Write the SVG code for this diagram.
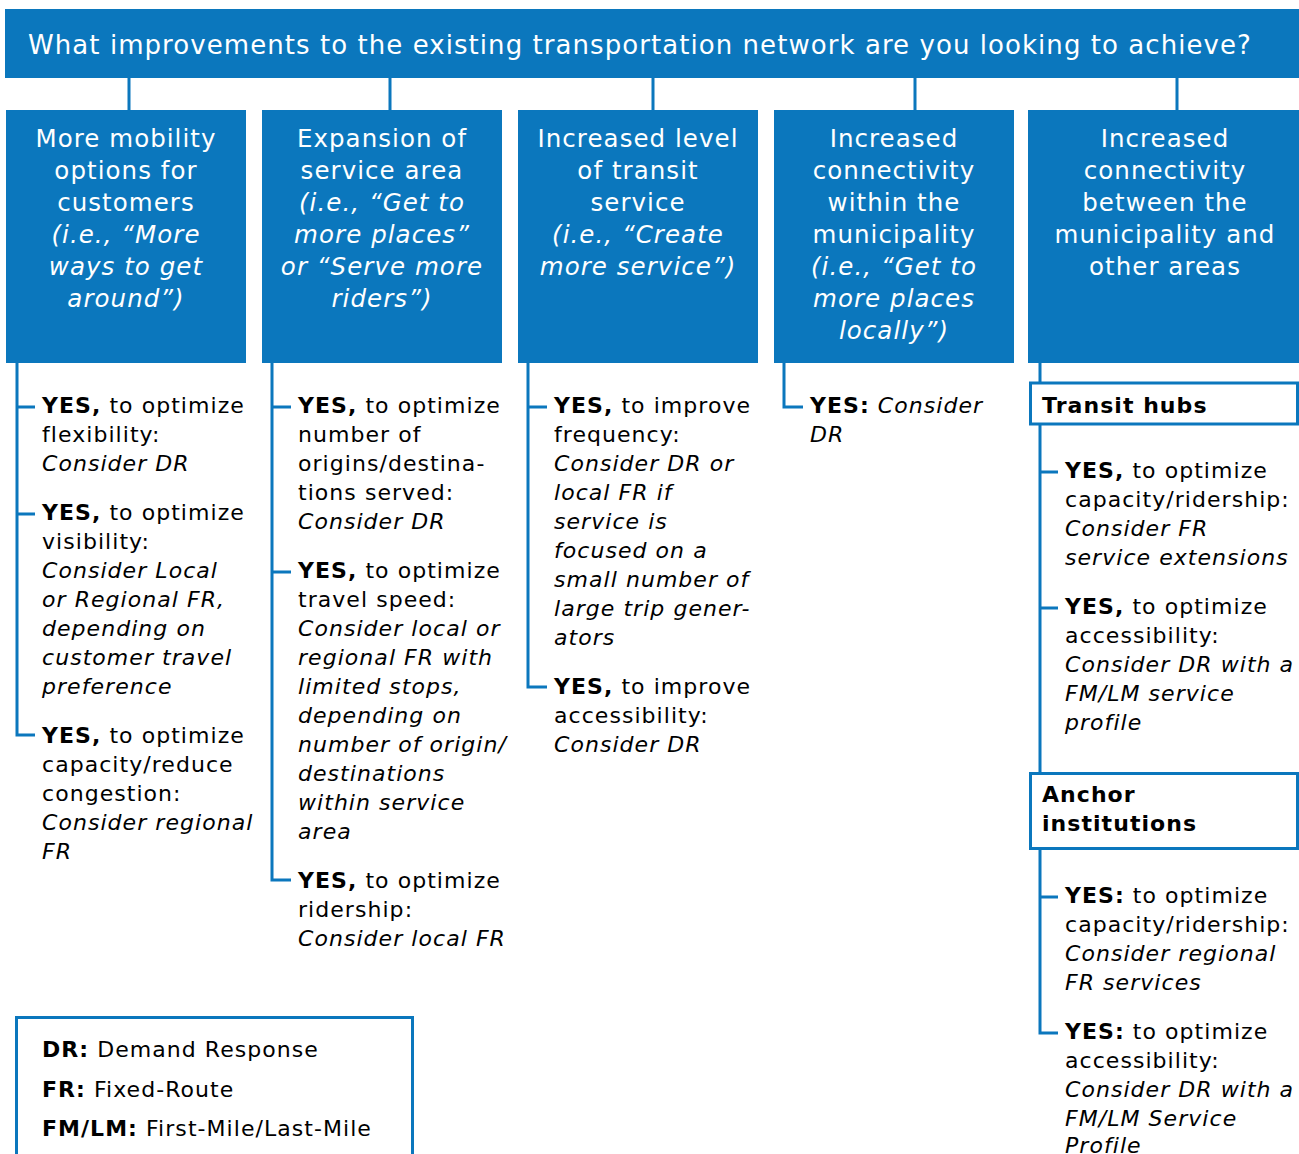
<svg xmlns="http://www.w3.org/2000/svg" width="1299" height="1154" viewBox="0 0 1299 1154">
<style>
.blue{fill:#0b77bd}
.hdr{font-family:"DejaVu Sans",Verdana,sans-serif;font-size:26px;fill:#fff;letter-spacing:1.06px}
.ct{font-family:"DejaVu Sans",Verdana,sans-serif;font-size:24.5px;fill:#fff;text-anchor:middle;letter-spacing:1.05px}
.bt{font-family:"DejaVu Sans",Verdana,sans-serif;font-size:22px;fill:#000;letter-spacing:1.05px}
.b{font-weight:bold}
.i{font-style:italic}
.ln{stroke:#0b77bd;stroke-width:3;fill:none}
.box{stroke:#0b77bd;stroke-width:3;fill:#fff}
</style>
<rect width="1299" height="1154" fill="#fff"/>
<g id="header">
<rect class="blue" x="5" y="9" width="1294" height="69"/>
<text class="hdr" x="28" y="54">What improvements to the existing transportation network are you looking to achieve?</text>
</g>
<g id="connectors">
<path class="ln" d="M129 78V110M390 78V110M653 78V110M915 78V110M1177 78V110"/>
<path class="ln" d="M17 363V735H35M17 407H35M17 514H35"/>
<path class="ln" d="M272 363V880H291M272 407H291M272 572H291"/>
<path class="ln" d="M528 363V687H547M528 407H547"/>
<path class="ln" d="M784 363V407H803"/>
<path class="ln" d="M1040 363V382M1040 424V772M1040 472H1058M1040 608H1058M1040 849V1033H1058M1040 897H1058"/>
</g>
<g id="col1">
<rect class="blue" x="6" y="110" width="240" height="253"/>
<text class="ct" x="126"><tspan x="126" y="147">More mobility</tspan><tspan x="126" y="179">options for</tspan><tspan x="126" y="211">customers</tspan><tspan class="i" x="126" y="243">(i.e., “More</tspan><tspan class="i" x="126" y="275">ways to get</tspan><tspan class="i" x="126" y="307">around”)</tspan></text>
</g>
<g id="col2">
<rect class="blue" x="262" y="110" width="240" height="253"/>
<text class="ct" x="382"><tspan x="382" y="147">Expansion of</tspan><tspan x="382" y="179">service area</tspan><tspan class="i" x="382" y="211">(i.e., “Get to</tspan><tspan class="i" x="382" y="243">more places”</tspan><tspan class="i" x="382" y="275">or “Serve more</tspan><tspan class="i" x="382" y="307">riders”)</tspan></text>
</g>
<g id="col3">
<rect class="blue" x="518" y="110" width="240" height="253"/>
<text class="ct" x="638"><tspan x="638" y="147">Increased level</tspan><tspan x="638" y="179">of transit</tspan><tspan x="638" y="211">service</tspan><tspan class="i" x="638" y="243">(i.e., “Create</tspan><tspan class="i" x="638" y="275">more service”)</tspan></text>
</g>
<g id="col4">
<rect class="blue" x="774" y="110" width="240" height="253"/>
<text class="ct" x="894"><tspan x="894" y="147">Increased</tspan><tspan x="894" y="179">connectivity</tspan><tspan x="894" y="211">within the</tspan><tspan x="894" y="243">municipality</tspan><tspan class="i" x="894" y="275">(i.e., “Get to</tspan><tspan class="i" x="894" y="307">more places</tspan><tspan class="i" x="894" y="339">locally”)</tspan></text>
</g>
<g id="col5">
<rect class="blue" x="1028" y="110" width="272" height="253"/>
<text class="ct" x="1165"><tspan x="1165" y="147">Increased</tspan><tspan x="1165" y="179">connectivity</tspan><tspan x="1165" y="211">between the</tspan><tspan x="1165" y="243">municipality and</tspan><tspan x="1165" y="275">other areas</tspan></text>
</g>
<g id="col1-items">
<text class="bt"><tspan x="42" y="413"><tspan class="b">YES,</tspan> to optimize</tspan><tspan x="42" y="442">flexibility:</tspan><tspan class="i" x="42" y="471">Consider DR</tspan></text>
<text class="bt"><tspan x="42" y="520"><tspan class="b">YES,</tspan> to optimize</tspan><tspan x="42" y="549">visibility:</tspan><tspan class="i" x="42" y="578">Consider Local</tspan><tspan class="i" x="42" y="607">or Regional FR,</tspan><tspan class="i" x="42" y="636">depending on</tspan><tspan class="i" x="42" y="665">customer travel</tspan><tspan class="i" x="42" y="694">preference</tspan></text>
<text class="bt"><tspan x="42" y="743"><tspan class="b">YES,</tspan> to optimize</tspan><tspan x="42" y="772">capacity/reduce</tspan><tspan x="42" y="801">congestion:</tspan><tspan class="i" x="42" y="830">Consider regional</tspan><tspan class="i" x="42" y="859">FR</tspan></text>
</g>
<g id="col2-items">
<text class="bt"><tspan x="298" y="413"><tspan class="b">YES,</tspan> to optimize</tspan><tspan x="298" y="442">number of</tspan><tspan x="298" y="471">origins/destina-</tspan><tspan x="298" y="500">tions served:</tspan><tspan class="i" x="298" y="529">Consider DR</tspan></text>
<text class="bt"><tspan x="298" y="578"><tspan class="b">YES,</tspan> to optimize</tspan><tspan x="298" y="607">travel speed:</tspan><tspan class="i" x="298" y="636">Consider local or</tspan><tspan class="i" x="298" y="665">regional FR with</tspan><tspan class="i" x="298" y="694">limited stops,</tspan><tspan class="i" x="298" y="723">depending on</tspan><tspan class="i" x="298" y="752">number of origin/</tspan><tspan class="i" x="298" y="781">destinations</tspan><tspan class="i" x="298" y="810">within service</tspan><tspan class="i" x="298" y="839">area</tspan></text>
<text class="bt"><tspan x="298" y="888"><tspan class="b">YES,</tspan> to optimize</tspan><tspan x="298" y="917">ridership:</tspan><tspan class="i" x="298" y="946">Consider local FR</tspan></text>
</g>
<g id="col3-items">
<text class="bt"><tspan x="554" y="413"><tspan class="b">YES,</tspan> to improve</tspan><tspan x="554" y="442">frequency:</tspan><tspan class="i" x="554" y="471">Consider DR or</tspan><tspan class="i" x="554" y="500">local FR if</tspan><tspan class="i" x="554" y="529">service is</tspan><tspan class="i" x="554" y="558">focused on a</tspan><tspan class="i" x="554" y="587">small number of</tspan><tspan class="i" x="554" y="616">large trip gener-</tspan><tspan class="i" x="554" y="645">ators</tspan></text>
<text class="bt"><tspan x="554" y="694"><tspan class="b">YES,</tspan> to improve</tspan><tspan x="554" y="723">accessibility:</tspan><tspan class="i" x="554" y="752">Consider DR</tspan></text>
</g>
<g id="col4-items">
<text class="bt"><tspan x="810" y="413"><tspan class="b">YES:</tspan> <tspan class="i">Consider</tspan></tspan><tspan class="i" x="810" y="442">DR</tspan></text>
</g>
<g id="transit-hubs">
<rect class="box" x="1030.5" y="383" width="267" height="41"/>
<text class="bt b" x="1042" y="413">Transit hubs</text>
</g>
<g id="col5-hub-items">
<text class="bt"><tspan x="1065" y="478"><tspan class="b">YES,</tspan> to optimize</tspan><tspan x="1065" y="507">capacity/ridership:</tspan><tspan class="i" x="1065" y="536">Consider FR</tspan><tspan class="i" x="1065" y="565">service extensions</tspan></text>
<text class="bt"><tspan x="1065" y="614"><tspan class="b">YES,</tspan> to optimize</tspan><tspan x="1065" y="643">accessibility:</tspan><tspan class="i" x="1065" y="672">Consider DR with a</tspan><tspan class="i" x="1065" y="701">FM/LM service</tspan><tspan class="i" x="1065" y="730">profile</tspan></text>
</g>
<g id="anchor-institutions">
<rect class="box" x="1030.5" y="773.5" width="267" height="75"/>
<text class="bt b"><tspan x="1042" y="802">Anchor</tspan><tspan x="1042" y="831">institutions</tspan></text>
</g>
<g id="col5-anchor-items">
<text class="bt"><tspan x="1065" y="903"><tspan class="b">YES:</tspan> to optimize</tspan><tspan x="1065" y="932">capacity/ridership:</tspan><tspan class="i" x="1065" y="961">Consider regional</tspan><tspan class="i" x="1065" y="990">FR services</tspan></text>
<text class="bt"><tspan x="1065" y="1039"><tspan class="b">YES:</tspan> to optimize</tspan><tspan x="1065" y="1068">accessibility:</tspan><tspan class="i" x="1065" y="1097">Consider DR with a</tspan><tspan class="i" x="1065" y="1126">FM/LM Service</tspan><tspan class="i" x="1065" y="1153">Profile</tspan></text>
</g>
<g id="legend">
<rect class="box" x="16.5" y="1017.5" width="396" height="150"/>
<text class="bt"><tspan x="42" y="1057"><tspan class="b">DR:</tspan> Demand Response</tspan><tspan x="42" y="1097"><tspan class="b">FR:</tspan> Fixed-Route</tspan><tspan x="42" y="1136"><tspan class="b">FM/LM:</tspan> First-Mile/Last-Mile</tspan></text>
</g>
</svg>
